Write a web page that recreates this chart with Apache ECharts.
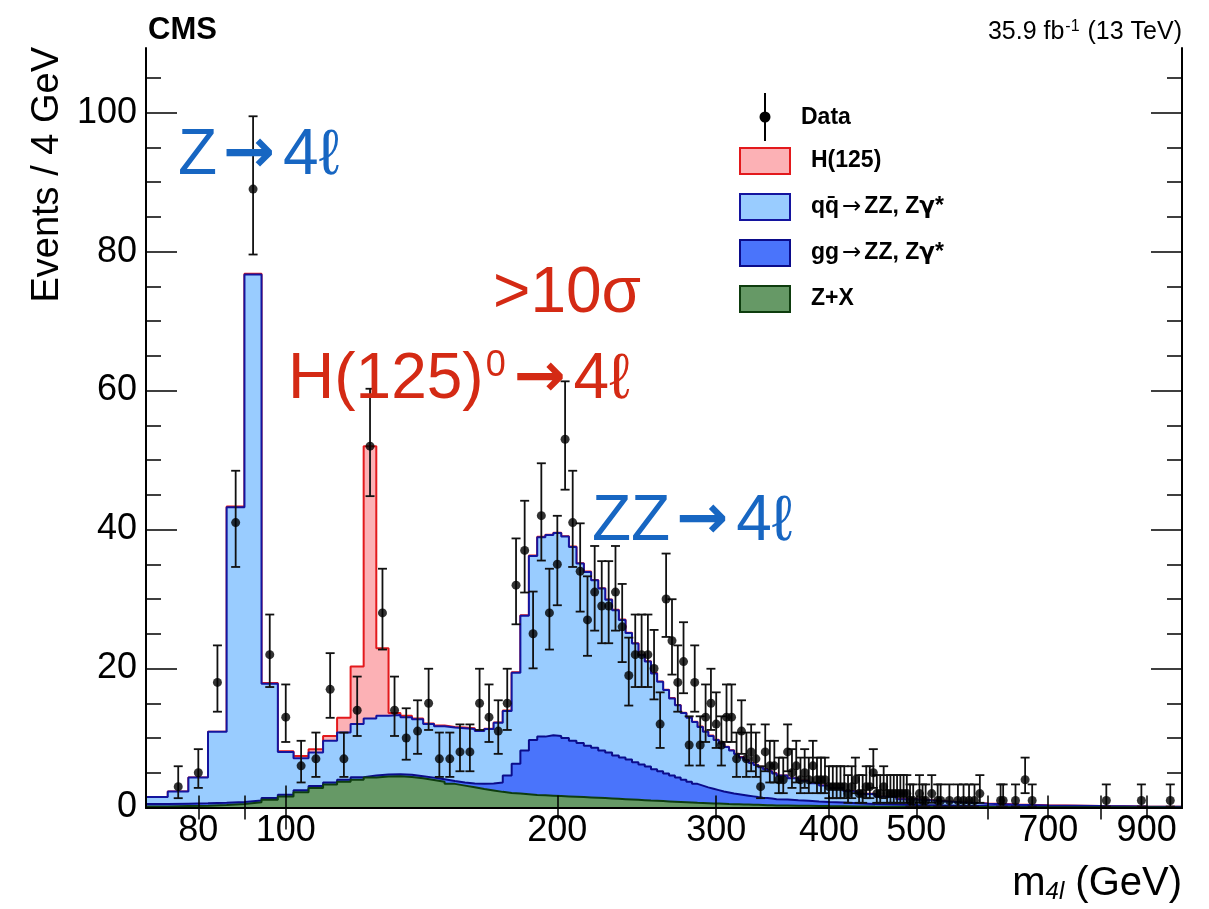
<!DOCTYPE html>
<html>
<head>
<meta charset="utf-8">
<script src="https://cdn.jsdelivr.net/npm/echarts@6/dist/echarts.min.js"></script>
<style>
html, body { margin: 0; padding: 0; background: #fff; }
#chart { width: 1209px; height: 909px; }
</style>
</head>
<body>
<div id="chart"></div>
<script>
// m4l spectrum: 4 GeV bins from 70 to 350 GeV, wider bins for the smooth MC tail
var binLow = 70, binWidth = 4, fineHigh = 350;
var coarseEdges = [350, 360, 370, 380, 390, 400, 415, 430, 450, 475, 500, 530, 560, 600, 650, 700, 800, 900, 985];

// expected events / 4 GeV per process (one value per bin)
var zxYield = [
  0.15, 0.2, 0.25, 0.35, 0.5, 0.75, 1.1, 1.6, 2.2, 2.8,
  3.3, 3.7, 4.0, 4.3, 4.45, 4.5, 4.4, 4.2, 3.95, 3.7,
  3.4, 3.15, 2.9, 2.65, 2.45, 2.25, 2.1, 2.0, 1.9, 1.8,
  1.75, 1.7, 1.65, 1.6, 1.55, 1.5, 1.45, 1.4, 1.35, 1.3,
  1.25, 1.2, 1.15, 1.1, 1.05, 1.0, 0.96, 0.92, 0.88, 0.84,
  0.8, 0.76, 0.72, 0.68, 0.65, 0.62, 0.59, 0.56, 0.53, 0.5,
  0.48, 0.46, 0.44, 0.42, 0.4, 0.38, 0.36, 0.34, 0.32, 0.3,
  0.28, 0.26, 0.24, 0.22, 0.2, 0.18, 0.16, 0.14, 0.12, 0.1,
  0.08, 0.07, 0.06, 0.05, 0.04, 0.03, 0.02, 0.015
];
var ggzzYield = [
  0.35, 0.35, 0.35, 0.35, 0.3, 0.25, 0.25, 0.25, 0.3, 0.3,
  0.3, 0.3, 0.35, 0.3, 0.3, 0.3, 0.3, 0.3, 0.35, 0.35,
  0.4, 0.45, 0.55, 0.75, 1.0, 1.35, 2.5, 4.3, 6.3, 7.9,
  8.45, 8.7, 8.65, 8.4, 8.05, 7.8, 7.45, 7.2, 6.85, 6.6,
  6.25, 6.0, 5.75, 5.4, 5.15, 4.9, 4.54, 4.28, 4.02, 3.76,
  3.5, 3.24, 2.98, 2.72, 2.5, 2.28, 2.11, 1.94, 1.77, 1.65,
  1.52, 1.44, 1.36, 1.28, 1.2, 1.12, 1.06, 1.01, 0.96, 0.9,
  0.87, 0.79, 0.73, 0.66, 0.6, 0.54, 0.46, 0.38, 0.32, 0.27,
  0.23, 0.19, 0.15, 0.12, 0.09, 0.07, 0.05, 0.035
];
var qqzzYield = [
  1.0, 1.75, 3.7, 10.2, 42.4, 75.7, 16.45, 6.15, 4.6, 4.8,
  6.0, 6.8, 7.65, 8.2, 8.45, 8.5, 8.3, 8.2, 7.7, 7.65,
  7.7, 7.8, 7.85, 7.6, 7.85, 8.6, 9.3, 13.1, 19.4, 26.5,
  28.7, 28.8, 29.2, 29.0, 27.9, 25.8, 25.0, 24.1, 23.3, 22.0,
  20.9, 19.8, 18.2, 17.1, 15.7, 15.1, 13.8, 12.9, 12.0, 11.1,
  10.4, 9.6, 9.2, 8.9, 8.45, 8.0, 7.6, 7.2, 6.9, 6.55,
  6.2, 5.8, 5.4, 5.1, 4.8, 4.6, 4.38, 4.15, 3.92, 3.7,
  3.45, 3.15, 2.88, 2.62, 2.35, 2.08, 1.73, 1.43, 1.11, 0.83,
  0.64, 0.49, 0.34, 0.23, 0.17, 0.1, 0.06, 0.04
];
var h125Yield = [
  0, 0, 0, 0, 0.1, 0.1, 0.1, 0.1, 0.3, 0.5,
  0.7, 2.1, 8.3, 39.2, 9.7, 0.3, 0.2, 0.1, 0.1, 0.1,
  0.1, 0.1, 0.1, 0.05, 0.05, 0.05, 0.05, 0.05, 0.05, 0.05,
  0.05, 0.05, 0.05, 0.05, 0.05, 0.05, 0.05, 0.05, 0.05, 0.05,
  0.05, 0.05, 0.05, 0.05, 0.05, 0.05, 0.05, 0.05, 0.05, 0.05,
  0.05, 0.05, 0.05, 0.05, 0.05, 0.05, 0.05, 0.05, 0.05, 0.05,
  0.05, 0.05, 0.05, 0.05, 0.05, 0.05, 0.05, 0.05, 0.05, 0.05,
  0.02, 0.02, 0.02, 0.02, 0.02, 0.02, 0.02, 0.02, 0.02, 0.02,
  0.02, 0.02, 0.02, 0.02, 0.02, 0.02, 0.02, 0.02
];

// observed events (bin centre in GeV, count); empty bins are not drawn
var dataMass = [
  76, 80, 84, 88, 92, 96, 100, 104, 108, 112,
  116, 120, 124, 128, 132, 136, 140, 144, 148, 152,
  156, 160, 164, 168, 172, 176, 180, 184, 188, 192,
  196, 200, 204, 208, 212, 216, 220, 224, 228, 232,
  236, 240, 244, 248, 252, 256, 260, 264, 268, 272,
  276, 280, 284, 288, 292, 296, 300, 304, 308, 312,
  316, 320, 324, 328, 332, 336, 340, 344, 348,
  352, 356, 360, 364, 368, 372, 376, 380, 384, 388,
  392, 396, 400, 404, 408, 412, 416, 420, 424, 428,
  432, 436, 440, 444, 448, 452, 456, 460, 464, 468,
  472, 476, 480, 484, 488, 492, 496,
  504, 508, 512, 520, 528, 532,
  544, 556, 564, 572, 580, 588,
  620, 624, 644, 660, 672,
  812, 888, 956
];
var dataCount = [
  3, 5, 18, 41, 89, 22, 13, 6, 7, 17,
  7, 14, 52, 28, 14, 10, 11, 15, 7, 7,
  8, 8, 15, 13, 11, 15, 32, 37, 25, 42,
  28, 35, 53, 41, 34, 27, 31, 29, 29, 31,
  26, 19, 22, 22, 22, 20, 12, 30, 24, 18,
  21, 9, 18, 9, 13, 15, 12, 9, 13, 13,
  7, 11, 7, 8, 7, 3, 8, 6, 6,
  4, 4, 8, 5, 6, 4, 5, 4, 6, 4,
  4, 4, 3, 3, 3, 3, 3, 2, 3, 4,
  2, 2, 3, 3, 5, 2, 2, 3, 2, 2,
  2, 2, 2, 2, 2, 1, 1,
  2, 1, 1, 2, 1, 1,
  1, 1, 1, 1, 1, 2,
  1, 1, 1, 4, 1,
  1, 1, 1
];

var xTickLabels = [80, 100, 200, 300, 400, 500, 700, 900];
var xMajorTicks = [100];
var xMinorTicks = [80, 90, 200, 300, 400, 500, 600, 700, 800, 900];
var yTickLabels = [0, 20, 40, 60, 80, 100];
var yMinorStep = 5;

var FONT = '"Liberation Sans", Arial, Helvetica, sans-serif';
var SYM_FONT = '"DejaVu Sans", sans-serif';
var xMin = Math.log10(70), xMax = Math.log10(985), yMax = 109.3;

// bin edges
var edges = [];
for (var e = binLow; e <= fineHigh; e += binWidth) edges.push(e);
for (var k = 1; k < coarseEdges.length; k++) edges.push(coarseEdges[k]);

// cumulative stack, bottom to top
function addArrays(a, b) { return a.map(function (v, i) { return v + b[i]; }); }
var stackZX = zxYield.slice();
var stackGG = addArrays(stackZX, ggzzYield);
var stackQQ = addArrays(stackGG, qqzzYield);
var stackH = addArrays(stackQQ, h125Yield);

function stepPoints(vals) {
  return edges.map(function (edge, i) {
    return [Math.log10(edge), vals[Math.min(i, vals.length - 1)]];
  });
}

function histSeries(name, vals, fill, line, z) {
  return {
    name: name, type: 'line', step: 'end', symbol: 'none', z: z,
    data: stepPoints(vals),
    lineStyle: { color: line, width: 2 },
    itemStyle: { color: fill },
    areaStyle: { color: fill, opacity: 1 },
    silent: true
  };
}

var yMinor = [];
for (var t = 0; t <= yMax; t += yMinorStep) if (yTickLabels.indexOf(t) < 0) yMinor.push(t);

function logs(arr) { return arr.map(function (v) { return Math.log10(v); }); }

function xAxisDef(pos, ticks, len, withLine, withLabels) {
  return {
    type: 'value', position: pos, min: xMin, max: xMax, z: 20,
    axisLine: { show: withLine, lineStyle: { color: '#000', width: 2 } },
    axisTick: { show: true, inside: true, length: len, customValues: logs(ticks),
                lineStyle: { color: '#000', width: 1.5 } },
    axisLabel: withLabels ? {
      show: true, customValues: logs(xTickLabels), margin: 6,
      color: '#000', fontSize: 36, fontFamily: FONT,
      formatter: function (v) { return String(Math.round(Math.pow(10, v))); }
    } : { show: false },
    splitLine: { show: false }
  };
}
function yAxisDef(pos, ticks, len, withLine, withLabels) {
  return {
    type: 'value', position: pos, min: 0, max: yMax, z: 20,
    axisLine: { show: withLine, lineStyle: { color: '#000', width: 2 } },
    axisTick: { show: true, inside: true, length: len, customValues: ticks,
                lineStyle: { color: '#000', width: 1.5 } },
    axisLabel: withLabels ? {
      show: true, customValues: yTickLabels, margin: 9,
      color: '#000', fontSize: 36, fontFamily: FONT
    } : { show: false },
    splitLine: { show: false }
  };
}

// Poisson (Gehrels) 68% intervals for the data points
var errData = dataMass.map(function (m, i) {
  var n = dataCount[i];
  return [Math.log10(m), n - Math.sqrt(n - 0.25), n + 1 + Math.sqrt(n + 0.75)];
});

function bigLabel(x, y, text, color, extraRich) {
  var rich = { arr: { fontFamily: SYM_FONT, fontSize: 62, fontWeight: 'bold', fill: color, padding: [0, 8, 0, 6] } };
  if (extraRich) for (var key in extraRich) rich[key] = extraRich[key];
  return { type: 'text', x: x, y: y, z: 50,
    style: { text: text, fill: color, font: '64px ' + FONT, align: 'left', verticalAlign: 'middle', rich: rich } };
}
function legendText(y, text) {
  return { type: 'text', x: 811, y: y, z: 50,
    style: { text: text, fill: '#000', font: 'bold 23px ' + FONT, align: 'left', verticalAlign: 'middle',
             rich: {
               arr: { fontFamily: SYM_FONT, fontSize: 23, fontWeight: 'normal', fill: '#000', padding: [0, 3, 0, 3] },
               g: { fontFamily: SYM_FONT, fontSize: 23, fontWeight: 'bold', fill: '#000' }
             } } };
}
function legendBox(y, fill, stroke) {
  return { type: 'rect', z: 50, shape: { x: 740, y: y, width: 50, height: 26 },
           style: { fill: fill, stroke: stroke, lineWidth: 2 } };
}

var chart = echarts.init(document.getElementById('chart'), null, { renderer: 'canvas' });

var option = {
  animation: false,
  backgroundColor: '#fff',
  grid: { left: 146, right: 27, top: 48, bottom: 101.5 },
  xAxis: [
    xAxisDef('bottom', xMajorTicks, 22, true, true),
    xAxisDef('bottom', xMinorTicks, 12, false, false),
    xAxisDef('top', xMajorTicks, 22, true, false),
    xAxisDef('top', xMinorTicks, 12, false, false)
  ],
  yAxis: [
    yAxisDef('left', yTickLabels, 31, true, true),
    yAxisDef('left', yMinor, 15, false, false),
    yAxisDef('right', yTickLabels, 31, true, false),
    yAxisDef('right', yMinor, 15, false, false)
  ],
  series: [
    histSeries('H(125)', stackH, '#fcb1b5', '#e3191c', 2),
    histSeries('qq→ZZ', stackQQ, '#99ccff', '#14149e', 3),
    histSeries('gg→ZZ', stackGG, '#4a74fb', '#0b0b8a', 4),
    histSeries('Z+X', stackZX, '#669966', '#0e3d0e', 5),
    {
      name: 'Data errors', type: 'custom', z: 8, silent: true,
      data: errData,
      encode: { x: 0, y: 1 },
      renderItem: function (params, api) {
        var x = api.value(0);
        var lo = api.coord([x, api.value(1)]);
        var hi = api.coord([x, api.value(2)]);
        var cap = 4.5;
        var st = { stroke: '#111', lineWidth: 1.8 };
        return {
          type: 'group',
          children: [
            { type: 'line', shape: { x1: hi[0], y1: hi[1], x2: lo[0], y2: lo[1] }, style: st },
            { type: 'line', shape: { x1: hi[0] - cap, y1: hi[1], x2: hi[0] + cap, y2: hi[1] }, style: st },
            { type: 'line', shape: { x1: lo[0] - cap, y1: lo[1], x2: lo[0] + cap, y2: lo[1] }, style: st }
          ]
        };
      }
    },
    {
      name: 'Data', type: 'scatter', z: 9, silent: true,
      symbol: 'circle', symbolSize: 9,
      itemStyle: { color: '#000' },
      data: dataMass.map(function (m, i) { return [Math.log10(m), dataCount[i]]; })
    }
  ],
  graphic: { elements: [
    // header
    { type: 'text', x: 148, y: 46, z: 50,
      style: { text: 'CMS', fill: '#000', font: 'bold 31px ' + FONT, align: 'left', verticalAlign: 'bottom' } },
    { type: 'text', x: 1182, y: 46, z: 50,
      style: { text: '35.9 fb{sup|-1} (13 TeV)', fill: '#000', font: '25px ' + FONT,
               align: 'right', verticalAlign: 'bottom',
               rich: { sup: { fontSize: 16, fontFamily: FONT, verticalAlign: 'top', padding: [0, 1, 11, 1] } } } },
    // axis titles
    { type: 'text', x: 48, y: 47, rotation: Math.PI / 2, z: 50,
      style: { text: 'Events / 4 GeV', fill: '#000', font: '38px ' + FONT, align: 'right', verticalAlign: 'middle' } },
    { type: 'text', x: 1182, y: 904, z: 50,
      style: { text: 'm{sub|4l} (GeV)', fill: '#000', font: '40px ' + FONT, align: 'right', verticalAlign: 'bottom',
               rich: { sub: { fontSize: 24, fontFamily: FONT, fontStyle: 'italic', verticalAlign: 'bottom', padding: [12, 0, 0, 0] } } } },
    // annotations
    bigLabel(178, 156, 'Z{arr|→}4ℓ', '#1766c2'),
    bigLabel(493, 294, '>10σ', '#d42a14'),
    bigLabel(288, 380, 'H(125){sup|0}{arr|→}4ℓ', '#d42a14',
             { sup: { fontSize: 36, fontFamily: FONT, fill: '#d42a14', verticalAlign: 'top', padding: [0, 2, 24, 2] } }),
    bigLabel(592, 522, 'ZZ{arr|→}4ℓ', '#1766c2'),
    // legend
    { type: 'line', z: 50, shape: { x1: 765, y1: 93, x2: 765, y2: 141 }, style: { stroke: '#000', lineWidth: 2 } },
    { type: 'circle', z: 51, shape: { cx: 765, cy: 117, r: 5.5 }, style: { fill: '#000' } },
    { type: 'text', x: 801, y: 118, z: 50,
      style: { text: 'Data', fill: '#000', font: 'bold 23px ' + FONT, align: 'left', verticalAlign: 'middle' } },
    legendBox(148, '#fcb1b5', '#e3191c'),
    legendText(161, 'H(125)'),
    legendBox(194, '#99ccff', '#14149e'),
    legendText(207, 'qq\u0304{arr|→}ZZ, Z{g|γ}*'),
    legendBox(240, '#4a74fb', '#0b0b8a'),
    legendText(253, 'gg{arr|→}ZZ, Z{g|γ}*'),
    legendBox(286, '#669966', '#0e3d0e'),
    legendText(299, 'Z+X')
  ] }
};

chart.setOption(option);
</script>
</body>
</html>
